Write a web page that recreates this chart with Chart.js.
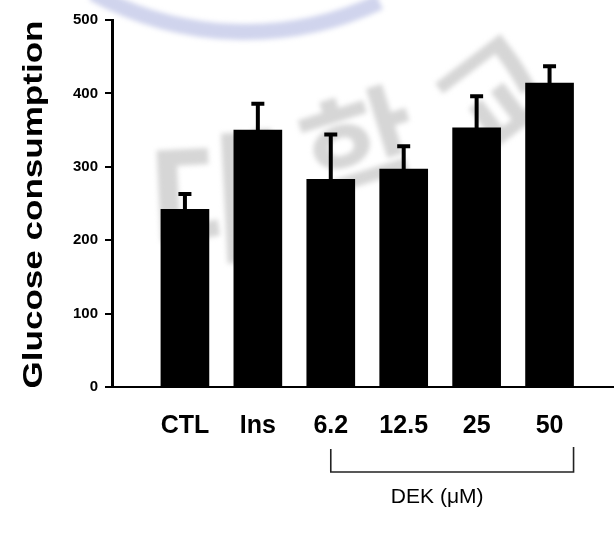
<!DOCTYPE html>
<html><head><meta charset="utf-8">
<script src="https://cdn.jsdelivr.net/npm/chart.js@4"></script>
<style>html,body{margin:0;padding:0;background:#fff}#wrap{width:614px;height:541px}</style>
</head><body><div id="wrap"><canvas id="c" width="614" height="541"></canvas></div>
<script>
const categories = ['CTL', 'Ins', '6.2', '12.5', '25', '50'];
const glucose = [242, 350, 283, 297, 353, 414];
const errors = [21, 36, 61, 31, 43, 23];
const yTicks = [0, 100, 200, 300, 400, 500];
const yTitle = 'Glucose consumption';
const groupLabel = 'DEK (\u03BCM)';
const groupFrom = 2; // 6.2
const groupTo = 5;   // 50
const watermarkChars = ['\uB300', '\uD559', '\uAD50']; // 대 학 교

const FONT = "'Liberation Sans', Arial, sans-serif";

const watermarkPlugin = {
  id: 'watermark',
  beforeDraw(chart) {
    const { ctx } = chart;
    ctx.save();
    ctx.filter = 'blur(2.5px)';
    // faint blue arc of the logo at the top
    ctx.strokeStyle = 'rgba(150,160,215,0.45)';
    ctx.lineWidth = 16;
    ctx.beginPath();
    ctx.arc(245, -284, 316, Math.PI * 0.36, Math.PI * 0.66);
    ctx.stroke();
    // grey characters
    ctx.fillStyle = 'rgba(200,200,200,0.75)';
    ctx.textAlign = 'center';
    ctx.textBaseline = 'middle';
    const spots = [[218, 200, -0.05, 150], [362, 150, -0.3, 125], [495, 95, -0.65, 120]];
    watermarkChars.forEach((ch, i) => {
      const [cx, cy, rot, size] = spots[i];
      ctx.save();
      ctx.translate(cx, cy);
      ctx.rotate(rot);
      ctx.font = "bold " + size + "px 'Noto Sans CJK KR', sans-serif";
      ctx.fillText(ch, 0, 0);
      ctx.restore();
    });
    ctx.restore();
  }
};

const errPlugin = {
  id: 'errbars',
  afterDatasetsDraw(chart) {
    const { ctx, scales: { x, y } } = chart;
    ctx.save();
    ctx.strokeStyle = '#000';
    ctx.lineWidth = 4;
    glucose.forEach((v, i) => {
      const px = x.getPixelForValue(i + 1);
      const y0 = y.getPixelForValue(v);
      const y1 = y.getPixelForValue(v + errors[i]);
      ctx.beginPath();
      ctx.moveTo(px, y0); ctx.lineTo(px, y1);
      ctx.moveTo(px - 6.5, y1); ctx.lineTo(px + 6.5, y1);
      ctx.stroke();
    });
    ctx.restore();
  }
};

const annoPlugin = {
  id: 'anno',
  afterDraw(chart) {
    const { ctx, scales: { x, y } } = chart;
    ctx.save();
    // bracket
    const bw = chart.data.datasets[0].barThickness;
    const lx = x.getPixelForValue(groupFrom + 1);
    const rx = x.getPixelForValue(groupTo + 1) + bw / 2;
    const by = y.bottom + 85, ty = y.bottom + 62;
    ctx.strokeStyle = '#222';
    ctx.lineWidth = 1.6;
    ctx.beginPath();
    ctx.moveTo(lx, ty); ctx.lineTo(lx, by); ctx.lineTo(rx, by); ctx.lineTo(rx, ty - 2);
    ctx.stroke();
    // group label
    ctx.fillStyle = '#000';
    ctx.font = "21px " + FONT;
    ctx.textAlign = 'center';
    ctx.textBaseline = 'middle';
    ctx.fillText(groupLabel, (lx + rx) / 2 - 15, y.bottom + 110);
    // y title (stretched along its length)
    ctx.font = "bold 27px " + FONT;
    ctx.textBaseline = 'alphabetic';
    const w = ctx.measureText(yTitle).width;
    const len = y.bottom - y.top + 1;
    ctx.translate(41.5, (y.top + y.bottom) / 2 + 1);
    ctx.rotate(-Math.PI / 2);
    ctx.scale(len / w, 1);
    ctx.fillText(yTitle, 0, 0);
    ctx.restore();
  }
};

new Chart(document.getElementById('c'), {
  type: 'bar',
  data: {
    datasets: [{
      data: categories.map((c, i) => ({ x: i + 1, y: glucose[i] })),
      backgroundColor: '#000',
      barThickness: 48,
      borderWidth: 0
    }]
  },
  options: {
    responsive: false,
    animation: false,
    layout: { padding: { left: 0, right: 1, top: 20, bottom: 0 } },
    plugins: { legend: { display: false }, tooltip: { enabled: false } },
    scales: {
      x: {
        type: 'linear', min: 0, max: 6.87, offset: false,
        afterBuildTicks: s => { s.ticks = categories.map((c, i) => ({ value: i + 1 })); },
        ticks: {
          callback: v => categories[v - 1] ?? '',
          color: '#000', font: { family: FONT, size: 25, weight: 'bold' },
          padding: 24, maxRotation: 0, autoSkip: false
        },
        grid: { display: false, drawTicks: false },
        border: { display: true, color: '#000', width: 2 },
        afterFit: s => { s.height = 154; }
      },
      y: {
        min: 0, max: 500,
        afterBuildTicks: s => { s.ticks = yTicks.map(v => ({ value: v })); },
        ticks: { color: '#000', font: { family: FONT, size: 15, weight: 'bold' }, padding: 7 },
        grid: { drawOnChartArea: false, drawTicks: true, tickLength: 7, color: '#000', lineWidth: 2 },
        border: { display: true, color: '#000', width: 3 },
        afterFit: s => { s.width = 112; }
      }
    }
  },
  plugins: [watermarkPlugin, errPlugin, annoPlugin]
});
</script>
</body></html>
